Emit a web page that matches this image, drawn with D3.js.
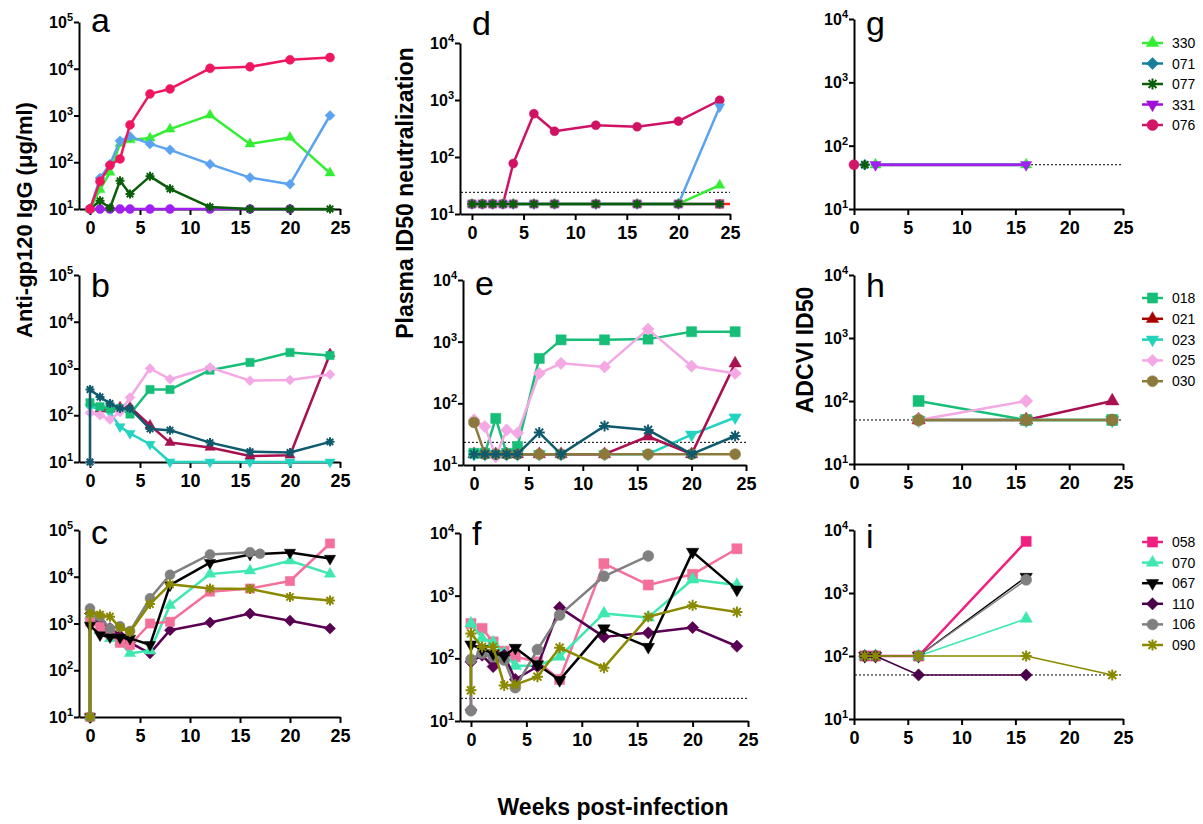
<!DOCTYPE html>
<html><head><meta charset="utf-8">
<script src="https://cdn.jsdelivr.net/npm/d3@7"></script>
<style>body{margin:0;background:#fff;} svg{display:block;font-family:"Liberation Sans",Arial,sans-serif;}</style>
</head><body><svg id="c" width="1203" height="824"></svg>
<script>
// ---------------- DATA ----------------
const xTicks = [0,5,10,15,20,25];
const yTicks5 = [10,100,1000,10000,100000];
const yTicks4 = [10,100,1000,10000];
const W = [0,1,2,3,4,6,8,12,16,20,24];
const W0 = [0,0,1,2,3,4,6,8,12,16,20,24];

// panel a: anti-gp120 IgG, group 1
const panelA = [
  {id:"331", w:[0,1,2,3,4,6,8,12,16,20], v:[10,10,10,10,10,10,10,10,10,10]},
  {id:"077", w:W, v:[10,15,10.5,40,21,50,27,11,10,10,10]},
  {id:"330", w:W, v:[10,26,61,250,300,330,510,1020,246,340,59]},
  {id:"071", w:W, v:[10,46,91,287,357,247,184,91,47,34,1000]},
  {id:"076", w:W, v:[10,39,86,118,630,2900,3700,10200,11000,15500,17400]}
];
// panel b: group 2
const panelB = [
  {id:"023", w:W, v:[150,140,113,57,41,24,10,10,10,10,10]},
  {id:"021", w:[1,2,3,4,6,8,12,16,20,24], v:[135,135,150,150,61,26,20.5,13.4,14,2050]},
  {id:"018", w:W, v:[185,152,140,140,106,355,355,920,1350,2200,1900]},
  {id:"025", w:W0, v:[10,113,100,81,118,240,1000,590,1050,550,565,745]},
  {id:"ast", w:W0, v:[10,355,245,178,140,140,51,48,26,16.6,16,27]}
];
// panel c: group 3
const panelC = [
  {id:"110", w:W0, v:[10,1630,1100,800,560,390,230,720,1050,1630,1150,780]},
  {id:"070", w:W0, v:[10,1500,700,480,400,230,260,2450,11500,13500,22000,11500]},
  {id:"058", w:W0, v:[10,1090,850,610,385,345,1000,1090,4800,5600,8100,51500]},
  {id:"067", w:W0, v:[10,910,565,515,500,480,350,6600,20000,30000,33000,24500]},
  {id:"106", w:[0,0,1,2,3,4,6,8,12,16,17], v:[10,2100,1400,780,870,690,3450,11000,30000,33500,31000]},
  {id:"090", w:W0, v:[10,1630,1550,1400,820,660,2600,6900,5600,5500,3700,3100]}
];
// panel d: plasma ID50 neutralization, group 1
const panelD = [
  {id:"red", w:[24,25], v:[15,15], markFirstOnly:true},
  {id:"076", w:W, v:[15,15,15,15,77,575,283,360,340,425,990]},
  {id:"071", w:W, v:[15,15,15,15,15,15,15,15,15,15,760]},
  {id:"330", w:W, v:[15,15,15,15,15,15,15,15,15,15,32]},
  {id:"331", w:W, v:[15,15,15,15,15,15,15,15,15,15,15]},
  {id:"077", w:W, v:[15,15,15,15,15,15,15,15,15,15,15]}
];
// panel e: group 2
const panelE = [
  {id:"023", w:W, v:[15,15,15,15,15,15,15,15,15,31,59]},
  {id:"021", w:W, v:[15,15,15,15,15,15,15,15,29,15,445]},
  {id:"018", w:W, v:[15.5,15.5,57,15.5,20,535,1070,1070,1100,1450,1450]},
  {id:"025", w:W, v:[54,42,13.6,37,33,305,445,390,1600,400,305]},
  {id:"030", w:W, v:[49,15,15,15,15,15,15,15,15,15,15]},
  {id:"ast", w:W, v:[15,15,15,15,15,33.5,15,43,37,15,29.5]}
];
// panel f: group 3
const panelF = [
  {id:"058", w:W, v:[360,300,183,130,106,88,46,3250,1480,2190,5600]},
  {id:"070", w:W, v:[360,210,180,120,76,76,106,520,450,1810,1480]},
  {id:"110", w:W0, v:[15,88,112,74,112,46,74,650,220,255,310,156]},
  {id:"106", w:[0,0,1,2,3,4,6,8,12,16], v:[14.6,96,120,106,94,34,138,490,2040,4300]},
  {id:"067", w:W, v:[166,140,120,110,147,80,45,300,152,5000,1250]},
  {id:"090", w:W0, v:[31,250,152,152,37,38,51,148,71,460,700,550]}
];
// panel g: ADCVI ID50, group 1
const panelG = [
  {id:"076", w:[0], v:[50]},
  {id:"071", w:[1], v:[50]},
  {id:"077", w:[1], v:[50]},
  {id:"330", w:[2,16], v:[50,50]},
  {id:"331", w:[2,16], v:[50,50]}
];
// panel h: group 2
const panelH = [
  {id:"021", w:[6,16,24], v:[50,50,100]},
  {id:"023", w:[6,16,24], v:[50,50,50]},
  {id:"018", w:[6,16,24], v:[100,50,50]},
  {id:"025", w:[6,16], v:[50,100]},
  {id:"030", w:[6,16,24], v:[50,50,50]}
];
// panel i: group 3
const panelI = [
  {id:"058", w:[1,2,6,16], v:[100,100,100,6600]},
  {id:"070", w:[1,2,6,16], v:[100,100,100,390]},
  {id:"067", w:[1,2,6,16], v:[100,100,100,1800]},
  {id:"106", w:[1,2,6,16], v:[100,100,100,1620]},
  {id:"110", w:[1,2,6,16], v:[100,100,50,50]},
  {id:"090", w:[1,2,6,16,24], v:[100,100,100,100,50]}
];
const cutoffD = 24, cutoffE = 23.3, cutoffF = 23, cutoffADCVI = 50;
const legend1 = ["330","071","077","331","076"];
const legend2 = ["018","021","023","025","030"];
const legend3 = ["058","070","067","110","106","090"];

// ---------------- STYLES ----------------
const shapes = {"330":"triangle","071":"diamond","077":"asterisk","331":"triangleDown","076":"circle",
  "018":"square","021":"triangle","023":"triangleDown","025":"diamond","030":"circle","ast":"asterisk",
  "058":"square","070":"triangle","067":"triangleDown","110":"diamond","106":"circle","090":"asterisk","red":"square"};
const legendColors = {"330":"#33EE33","071":"#177E9C","077":"#0A5E0A","331":"#A010D8","076":"#D41466",
  "018":"#17BE78","021":"#A80000","023":"#22D3B8","025":"#F4A8E4","030":"#8C7A3C",
  "058":"#F0207E","070":"#3FE8B0","067":"#000000","110":"#4A0048","106":"#808080","090":"#8A8A00"};
const plotColors = {"330":"#33EE33","071":"#5BA3F0","077":"#0A5E0A","331":"#A020F0","076":"#EE1660",
  "018":"#17BE78","021":"#A8104F","023":"#22D3C0","025":"#F4A8E4","030":"#8C7A3C","ast":"#0F5A6C",
  "058":"#F4709A","070":"#3FE8B0","067":"#000000","110":"#5A0052","106":"#808080","090":"#8A8A00","red":"#FF2020"};

const svg = d3.select("#c");

function markerPath(shape, w){
  if(shape==="asterisk"){ const r=w/2, a=r*0.72;
    return `M${-r},0L${r},0M0,${-r}L0,${r}M${-a},${-a}L${a},${a}M${-a},${a}L${a},${-a}`; }
  let type, size;
  if(shape==="circle"){type=d3.symbolCircle; size=Math.PI*(w/2)*(w/2);}
  else if(shape==="square"){type=d3.symbolSquare; size=w*w*0.85;}
  else if(shape==="diamond"){type=d3.symbolSquare; size=w*w*0.62;}
  else {type=d3.symbolTriangle; size=w*w*0.55;}
  return d3.symbol().type(type).size(size)();
}
function markerTf(shape,x,y){
  let r="";
  if(shape==="diamond") r=" rotate(45)";
  if(shape==="triangleDown") r=" rotate(180)";
  return `translate(${x},${y})${r}`;
}
function drawMarker(g, shape, color, x, y, w){
  const p = g.append("path").attr("d", markerPath(shape,w)).attr("transform", markerTf(shape,x,y));
  if(shape==="asterisk") p.attr("fill","none").attr("stroke",color).attr("stroke-width",2);
  else p.attr("fill",color).attr("stroke",color).attr("stroke-width",0.5);
}

function drawPanel(p){
  const x = d3.scaleLinear().domain([p.xmin,25]).range([p.x0,p.x1]);
  const y = d3.scaleLog().domain([10,p.ymax]).range([p.yb,p.yt]);
  const g = svg.append("g");
  const ya = g.append("g").attr("transform",`translate(${p.x0},0)`)
    .call(d3.axisLeft(y).tickValues(p.yticks).tickSize(5).tickSizeOuter(0).tickFormat(""));
  ya.select(".domain").attr("stroke","#000").attr("stroke-width",2);
  ya.selectAll(".tick line").attr("stroke","#000").attr("stroke-width",2);
  p.yticks.forEach(v=>{
    const t = g.append("text").attr("x",p.x0-6).attr("y",y(v)+6).attr("text-anchor","end")
      .attr("font-weight","bold").attr("font-size",16).attr("fill","#000");
    t.append("tspan").text("10");
    t.append("tspan").attr("dy",-7).attr("font-size",11).text(String(Math.round(Math.log10(v))));
  });
  const xa = g.append("g").attr("transform",`translate(0,${p.yb})`)
    .call(d3.axisBottom(x).tickValues(xTicks).tickSize(6).tickSizeOuter(0));
  xa.select(".domain").attr("stroke","#000").attr("stroke-width",2);
  xa.selectAll(".tick line").attr("stroke","#000").attr("stroke-width",2);
  xa.selectAll(".tick text").attr("y",12).attr("font-weight","bold").attr("font-size",18)
    .attr("font-family","Liberation Sans, Arial, sans-serif").attr("fill","#000");
  if(p.cutoff){
    g.append("line").attr("x1",p.x0+1).attr("x2",p.x1).attr("y1",y(p.cutoff)).attr("y2",y(p.cutoff))
      .attr("stroke","#000").attr("stroke-width",1).attr("stroke-dasharray","2,2");
  }
  g.append("text").attr("x",p.x0+12).attr("y",p.letterY).attr("font-size",34).attr("fill","#000").text(p.letter);
  p.series.forEach(s=>{
    const color = (p.colors && p.colors[s.id]) || plotColors[s.id];
    const shape = (p.shapes && p.shapes[s.id]) || shapes[s.id];
    const pts = s.w.map((wk,i)=>[x(wk), y(s.v[i])]);
    const lw = (p.lw && p.lw[s.id]) || p.lineW;
    if(pts.length>1){
      g.append("path").attr("d", d3.line()(pts)).attr("fill","none").attr("stroke",color)
        .attr("stroke-width",lw).attr("stroke-linejoin","round");
    }
    pts.forEach((pt,i)=>{
      if(s.markFirstOnly && i>0) return;
      drawMarker(g, shape, color, pt[0], pt[1], p.mk);
    });
  });
}

function drawLegend(ids, y0, dy){
  ids.forEach((id,i)=>{
    const yy = y0 + i*dy;
    const c = legendColors[id];
    svg.append("line").attr("x1",1142).attr("x2",1163).attr("y1",yy).attr("y2",yy).attr("stroke",c).attr("stroke-width",2.5);
    drawMarker(svg, shapes[id], c, 1152.5, yy, 11);
    svg.append("text").attr("x",1172).attr("y",yy+5).attr("font-size",14).attr("fill","#000").text(id);
  });
}

const panels = [
  {letter:"a", series:panelA, x0:79, x1:340, xmin:-1.1, yb:209, yt:22, ymax:1e5, yticks:yTicks5, letterY:32, mk:9, lineW:2.5,
    shapes:{"331":"circle"}},
  {letter:"b", series:panelB, x0:79, x1:340, xmin:-1.1, yb:462, yt:275, ymax:1e5, yticks:yTicks5, letterY:297, mk:9, lineW:2.5},
  {letter:"c", series:panelC, x0:79, x1:340, xmin:-1.1, yb:717, yt:530, ymax:1e5, yticks:yTicks5, letterY:544, mk:10, lineW:2.5},
  {letter:"d", series:panelD, x0:460, x1:730, xmin:-1.16, yb:214, yt:43, ymax:1e4, yticks:yTicks4, letterY:35, mk:9, lineW:2.5, cutoff:cutoffD,
    colors:{"076":"#CF1264","331":"#C040C0"}, shapes:{"331":"square","071":"triangleDown"}},
  {letter:"e", series:panelE, x0:463, x1:746, xmin:-1.01, yb:465, yt:280, ymax:1e4, yticks:yTicks4, letterY:295, mk:11, lineW:2.5, cutoff:cutoffE},
  {letter:"f", series:panelF, x0:460, x1:748, xmin:-0.99, yb:721, yt:533, ymax:1e4, yticks:yTicks4, letterY:545, mk:11, lineW:2.5, cutoff:cutoffF},
  {letter:"g", series:panelG, x0:854, x1:1123, xmin:0, yb:209, yt:19, ymax:1e4, yticks:yTicks4, letterY:35, mk:10, lineW:3, cutoff:cutoffADCVI,
    colors:{"076":"#D41466"}},
  {letter:"h", series:panelH, x0:854, x1:1123, xmin:0, yb:464, yt:275, ymax:1e4, yticks:yTicks4, letterY:297, mk:12, lineW:2.5, cutoff:cutoffADCVI},
  {letter:"i", series:panelI, x0:854, x1:1123, xmin:0, yb:719, yt:530, ymax:1e4, yticks:yTicks4, letterY:548, mk:11, lineW:1.5, cutoff:cutoffADCVI,
    colors:{"058":"#F0207E","110":"#4A0048"}, lw:{"058":2.5}}
];
panels.forEach(drawPanel);

drawLegend(legend1, 43, 20.5);
drawLegend(legend2, 298, 20.8);
drawLegend(legend3, 542, 20.6);

svg.append("text").attr("transform","translate(32,220) rotate(-90)").attr("text-anchor","middle")
  .attr("font-weight","bold").attr("font-size",22).text("Anti-gp120 IgG (μg/ml)");
svg.append("text").attr("transform","translate(413,193) rotate(-90)").attr("text-anchor","middle")
  .attr("font-weight","bold").attr("font-size",23).text("Plasma ID50 neutralization");
svg.append("text").attr("transform","translate(813,350) rotate(-90)").attr("text-anchor","middle")
  .attr("font-weight","bold").attr("font-size",23).text("ADCVI ID50");
svg.append("text").attr("x",613).attr("y",815).attr("text-anchor","middle")
  .attr("font-weight","bold").attr("font-size",23).text("Weeks post-infection");
</script></body></html>
